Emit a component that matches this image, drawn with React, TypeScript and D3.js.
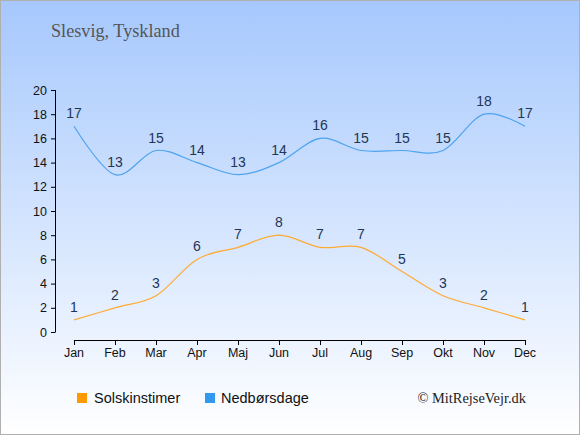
import React from "react";
import * as d3 from "d3";

const months = ["Jan", "Feb", "Mar", "Apr", "Maj", "Jun", "Jul", "Aug", "Sep", "Okt", "Nov", "Dec"];
const sunHours = [1, 2, 3, 6, 7, 8, 7, 7, 5, 3, 2, 1];
const rainDays = [17, 13, 15, 14, 13, 14, 16, 15, 15, 15, 18, 17];
const yTicks = [0, 2, 4, 6, 8, 10, 12, 14, 16, 18, 20];

const W = 580, H = 435;

export default function App() {
  const x = d3.scalePoint<string>().domain(months).range([74, 525]);
  const y = d3.scaleLinear().domain([0, 20]).range([332, 90]);
  const line = d3
    .line<number>()
    .x((_, i) => x(months[i]) as number)
    .y((d) => y(d))
    .curve(d3.curveCardinal.tension(0));
  const sans = "'Liberation Sans', Arial, sans-serif";
  const serif = "'Liberation Serif', 'Times New Roman', serif";
  return (
    <svg width={W} height={H} style={{ position: "absolute", left: 0, top: 0 }}>
      <defs>
        <linearGradient id="bg" x1="0" y1="0" x2="0" y2="1">
          <stop offset="0" stopColor="#a6c8fd" />
          <stop offset="1" stopColor="#ffffff" />
        </linearGradient>
      </defs>
      <rect x={0.5} y={0.5} width={W - 1} height={H - 1} fill="url(#bg)" stroke="#b0b0b0" />
      <text x={51} y={37} fontFamily={serif} fontSize={18.2} fill="#555">
        Slesvig, Tyskland
      </text>
      {/* y axis */}
      <line x1={55.5} x2={55.5} y1={90} y2={332} stroke="#000" />
      {yTicks.map((t) => (
        <g key={t}>
          <line x1={51} x2={55.5} y1={y(t) + 0.5} y2={y(t) + 0.5} stroke="#000" />
          <text x={47} y={y(t) + 4.5} textAnchor="end" fontFamily={sans} fontSize={12.5} fill="#111">
            {t}
          </text>
        </g>
      ))}
      {/* x axis */}
      <line x1={74} x2={526} y1={340.5} y2={340.5} stroke="#000" />
      {months.map((m) => (
        <g key={m}>
          <line x1={(x(m) as number) + 0.5} x2={(x(m) as number) + 0.5} y1={340} y2={345} stroke="#000" />
          <text x={x(m) as number} y={357} textAnchor="middle" fontFamily={sans} fontSize={12.5} fill="#111">
            {m}
          </text>
        </g>
      ))}
      <path d={line(rainDays) || ""} fill="none" stroke="#4da3ee" strokeWidth={1.2} />
      <path d={line(sunHours) || ""} fill="none" stroke="#ffaa33" strokeWidth={1.2} />
      {rainDays.map((v, i) => (
        <text key={"r" + i} x={x(months[i]) as number} y={y(v) - 8} textAnchor="middle" fontFamily={sans} fontSize={14} fill="#233556">
          {v}
        </text>
      ))}
      {sunHours.map((v, i) => (
        <text key={"s" + i} x={x(months[i]) as number} y={y(v) - 8} textAnchor="middle" fontFamily={sans} fontSize={14} fill="#233556">
          {v}
        </text>
      ))}
      {/* legend */}
      <rect x={77} y={393} width={10} height={10} fill="#ff9900" />
      <text x={94} y={403} fontFamily={sans} fontSize={14.5} fill="#111">Solskinstimer</text>
      <rect x={205} y={393} width={10} height={10} fill="#3399ee" />
      <text x={221} y={403} fontFamily={sans} fontSize={14.5} fill="#111">Nedbørsdage</text>
      <text x={526} y={403} textAnchor="end" fontFamily={serif} fontSize={14.4} fill="#222">
        © MitRejseVejr.dk
      </text>
    </svg>
  );
}
